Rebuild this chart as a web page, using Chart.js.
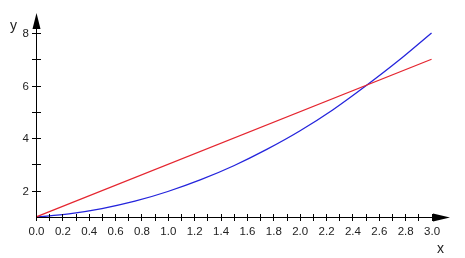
<!DOCTYPE html>
<html><head><meta charset="utf-8">
<script src="https://cdn.jsdelivr.net/npm/chart.js@4"></script>
<style>html,body{margin:0;padding:0;background:#fff}#wrap{width:465px;height:258px}</style>
</head><body>
<div id="wrap"><canvas id="plot"></canvas></div>
<script>
const xsCurve=[0,0.25,0.5,0.75,1,1.25,1.5,1.75,2,2.25,2.5,2.75,3];
const ysCurve=[1,1.12,1.32,1.6,1.97,2.42,2.95,3.57,4.27,5.07,5.98,6.95,8];
const xsLine=[0,3];
const ysLine=[1,7];
const xTicks=[0,0.2,0.4,0.6,0.8,1,1.2,1.4,1.6,1.8,2,2.2,2.4,2.6,2.8,3];
const xMinor=[0.1,0.3,0.5,0.7,0.9,1.1,1.3,1.5,1.7,1.9,2.1,2.3,2.5,2.7,2.9];
const yTicks=[2,4,6,8];
const yMinor=[3,5,7];

const pts=(xs,ys)=>xs.map((x,i)=>({x,y:ys[i]}));
const FONT='11.5px "Liberation Sans", Arial';

/* ejes con flechas, marcas y etiquetas */
const axes={
  id:'axes',
  afterDraw(c){
    const g=c.ctx,sx=c.scales.x,sy=c.scales.y;
    const x0=sx.getPixelForValue(0),y0=sy.getPixelForValue(1);
    const xe=sx.getPixelForValue(sx.max),ye=sy.getPixelForValue(sy.max);
    g.save();
    g.strokeStyle='#000';g.fillStyle='#000';g.lineWidth=1;
    g.beginPath();
    g.moveTo(x0+.5,y0);g.lineTo(x0+.5,ye+10);
    g.moveTo(x0,y0+.5);g.lineTo(xe-12,y0+.5);
    xTicks.concat(xMinor).forEach(v=>{const p=Math.round(sx.getPixelForValue(v))+.5;g.moveTo(p,y0-3);g.lineTo(p,y0+4);});
    yTicks.concat(yMinor).forEach(v=>{const p=Math.round(sy.getPixelForValue(v))+.5;g.moveTo(x0-4,p);g.lineTo(x0+5,p);});
    g.stroke();
    g.beginPath();g.moveTo(x0+.5,ye);g.lineTo(x0-3.5,ye+16);g.lineTo(x0+4.5,ye+16);g.closePath();g.fill();
    g.beginPath();g.moveTo(xe,y0+.5);g.lineTo(xe-17,y0-3.5);g.lineTo(xe-17,y0+4.5);g.closePath();g.fill();
    g.fillStyle='#222';g.font=FONT;
    g.textAlign='center';g.textBaseline='middle';
    xTicks.forEach(v=>g.fillText(v.toFixed(1),sx.getPixelForValue(v)+.5,y0+15));
    g.textAlign='right';
    yTicks.forEach(v=>g.fillText(String(v),x0-7,sy.getPixelForValue(v)+1));
    g.textAlign='left';g.textBaseline='alphabetic';
    g.font='14px "Liberation Sans", Arial';
    g.fillText('y',10,30);
    g.fillText('x',437,253);
    g.restore();
  }
};

new Chart(document.getElementById('plot'),{
  type:'scatter',
  data:{datasets:[
    {data:pts(xsLine,ysLine),showLine:true,borderColor:'#e52630',borderWidth:1.3,pointRadius:0},
    {data:pts(xsCurve,ysCurve),showLine:true,borderColor:'#2424dc',borderWidth:1.3,pointRadius:0,cubicInterpolationMode:'monotone'}
  ]},
  options:{
    responsive:true,maintainAspectRatio:false,animation:false,
    layout:{padding:{top:13,right:15,left:0,bottom:0}},
    plugins:{legend:{display:false},tooltip:{enabled:false}},
    scales:{
      x:{type:'linear',min:0,max:3.14,
        afterFit:s=>{s.height=41;},
        grid:{display:false},border:{display:false},ticks:{display:false}},
      y:{type:'linear',min:1,max:8.76,
        afterFit:s=>{s.width=36;},
        grid:{display:false},border:{display:false},ticks:{display:false}}
    }
  },
  plugins:[axes]
});
</script>
</body></html>
